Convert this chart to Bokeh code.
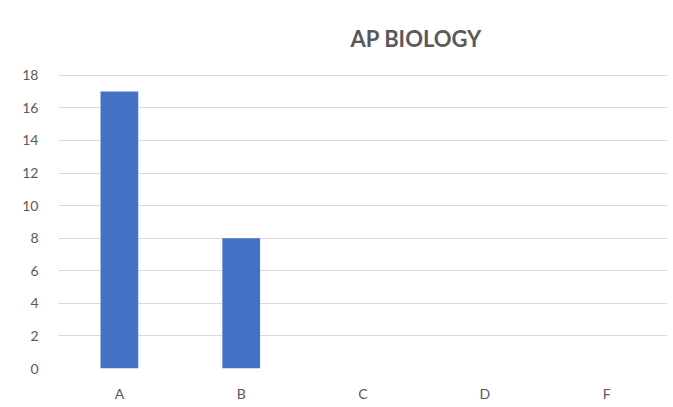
from bokeh.plotting import figure
from bokeh.models import Range1d, FixedTicker
from bokeh.embed import file_html
from bokeh.resources import INLINE

categories = ["A", "B", "C", "D", "F"]
counts = [17, 8, 0, 0, 0]
y_ticks = [0, 2, 4, 6, 8, 10, 12, 14, 16, 18]
title_text = "AP BIOLOGY"

FONT = "Lato"
GREY = "#595959"

p = figure(x_range=categories, width=673, height=407, output_backend="svg",
           toolbar_location=None, min_border_left=58, min_border_right=6,
           min_border_top=74, min_border_bottom=39)
p.y_range = Range1d(0, 18.05)
p.vbar(x=categories, top=counts, width=0.31, fill_color="#4472C4", line_color=None)

p.outline_line_color = None
p.xgrid.grid_line_color = None
p.ygrid.grid_line_color = "#D9D9D9"
p.ygrid.grid_line_width = 1
p.yaxis.ticker = FixedTicker(ticks=y_ticks)
for ax in (p.xaxis, p.yaxis):
    ax.axis_line_color = None
    ax.major_tick_line_color = None
    ax.minor_tick_line_color = None
    ax.major_label_text_font = FONT
    ax.major_label_text_font_size = "14px"
    ax.major_label_text_color = GREY
p.xaxis.major_label_standoff = 10
p.yaxis.major_label_standoff = 14

p.title.text = title_text
p.title.align = "left"
p.title.offset = 292
p.title.standoff = 45
p.title.text_font = FONT
p.title.text_font_size = "22px"
p.title.text_font_style = "bold"
p.title.text_color = GREY

open("out.html", "w").write(file_html(p, INLINE))
